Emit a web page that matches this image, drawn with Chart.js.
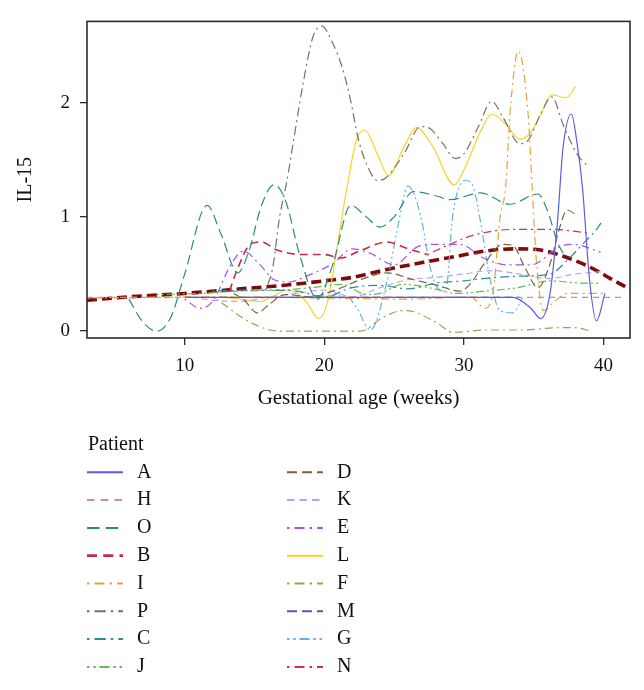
<!DOCTYPE html>
<html>
<head>
<meta charset="utf-8">
<script src="https://cdn.jsdelivr.net/npm/chart.js@4.4.1/dist/chart.umd.min.js"></script>
<style>
  html, body { margin: 0; padding: 0; background: #fff; }
</style>
</head>
<body>
<canvas id="il15" width="644" height="690"></canvas>
<script>
// IL-15 trajectories per patient, [week, value] pairs
const patients = ['A', 'H', 'O', 'B', 'I', 'P', 'C', 'J', 'D', 'K', 'E', 'L', 'F', 'M', 'G', 'N'];

const seriesA = [[10, 0.295], [22, 0.295], [33.5, 0.295], [34.8, 0.2], [35.5, 0.11], [36.2, 0.35], [36.7, 0.95], [37.1, 1.6], [37.7, 1.9], [38.1, 1.65], [38.5, 1.25], [39.0, 0.45], [39.5, 0.09], [40.1, 0.33]];
const seriesH = [[3, 0.295], [12, 0.295], [25, 0.295], [35, 0.295], [41.6, 0.295]];
const seriesO = [[6, 0.28], [7, 0.08], [8, 0.0], [9, 0.12], [10, 0.5], [11.6, 1.1], [12.6, 0.85], [13.8, 0.51], [14.6, 0.7], [15.5, 1.1], [16.4, 1.28], [17.2, 1.15], [18.3, 0.64], [19.5, 0.28], [20.6, 0.58], [21.9, 1.1], [23, 1.0], [24.0, 0.91], [25, 1.0], [26.4, 1.22], [28.1, 1.18], [29, 1.15], [31.2, 1.21], [33.3, 1.11], [35.3, 1.2], [36.0, 1.05], [36.7, 0.78], [37.3, 0.64]];
const seriesB = [[13.2, 0.35], [13.8, 0.55], [14.7, 0.76], [15.5, 0.78], [16.6, 0.71], [18.5, 0.67], [20, 0.67], [21.2, 0.64], [22.5, 0.7], [24.5, 0.78], [26, 0.72], [27.4, 0.67]];
const seriesI = [[3, 0.29], [12, 0.3], [20, 0.29], [26, 0.28], [30.5, 0.3], [31.5, 0.2], [32.1, 0.35], [32.6, 1.0], [33.0, 1.27], [33.3, 1.9], [33.9, 2.45], [34.6, 1.9], [34.9, 1.24], [35.2, 0.6], [35.7, 0.18], [36.5, 0.26], [37.4, 0.33], [40, 0.33]];
const seriesP = [[15.8, 0.36], [16.3, 0.55], [16.8, 1.0], [17.3, 1.3], [17.8, 1.67], [18.5, 2.18], [19.2, 2.58], [19.8, 2.67], [20.6, 2.52], [21.3, 2.3], [21.9, 2.01], [22.4, 1.7], [23.0, 1.47], [23.8, 1.32], [24.4, 1.34], [25.7, 1.55], [26.9, 1.79], [27.6, 1.77], [28.5, 1.64], [29.4, 1.51], [30.0, 1.55], [31.0, 1.78], [32.0, 2.01], [32.8, 1.87], [34.0, 1.64], [34.6, 1.67], [35.5, 1.9], [36.3, 2.05], [37.1, 1.81], [38.1, 1.55], [38.9, 1.44]];
const seriesC = [[12, 0.35], [15, 0.36], [18, 0.35], [20, 0.3], [22, 0.38], [24, 0.4], [26, 0.37], [28, 0.42], [30, 0.44], [31.4, 0.46], [33.8, 0.48], [36.2, 0.5], [37.4, 0.62], [38.5, 0.76], [39.5, 0.89], [39.9, 0.96]];
const seriesJ = [[8, 0.32], [11, 0.33], [14, 0.35], [17, 0.36], [19, 0.38], [21.3, 0.41], [23, 0.32], [24, 0.33], [25.6, 0.41], [27.5, 0.38], [29.5, 0.33], [31.5, 0.35], [33.8, 0.38], [36.2, 0.44], [38.5, 0.42], [39.8, 0.42]];
const seriesD = [[13.5, 0.33], [14.2, 0.28], [15.2, 0.16], [16.1, 0.24], [17.2, 0.32], [19, 0.3], [21, 0.37], [22.8, 0.46], [24.5, 0.51], [26.4, 0.45], [28.1, 0.4], [29.7, 0.35], [30.5, 0.42], [31.4, 0.58], [32.8, 0.76], [33.5, 0.75], [34.4, 0.55], [35.3, 0.38], [36.2, 0.6], [36.8, 0.88], [37.4, 1.06], [38.1, 1.01]];
const seriesK = [[10.5, 0.3], [12, 0.27], [14, 0.26], [16, 0.3], [18, 0.33], [20, 0.36], [22, 0.3], [24, 0.38], [26, 0.45], [28, 0.47], [30, 0.5], [32, 0.53], [34, 0.5], [36, 0.46], [38, 0.5], [39.8, 0.52]];
const seriesE = [[10, 0.28], [11.1, 0.2], [12, 0.26], [13.3, 0.58], [14.2, 0.7], [15.4, 0.58], [16.4, 0.45], [17.5, 0.43], [18.5, 0.47], [20.6, 0.59], [22.0, 0.72], [23.3, 0.68], [25.0, 0.58], [26.7, 0.74], [28.1, 0.76], [29.7, 0.76], [31.4, 0.64], [33.1, 0.58], [34.8, 0.58], [36.9, 0.74], [37.8, 0.76], [39.8, 0.69]];
const seriesL = [[12.5, 0.3], [14, 0.28], [15.4, 0.26], [16.4, 0.31], [17.3, 0.36], [18.2, 0.32], [18.8, 0.24], [19.6, 0.11], [20.2, 0.24], [20.9, 0.72], [21.6, 1.24], [22.3, 1.67], [22.9, 1.76], [23.8, 1.55], [24.6, 1.36], [25.7, 1.61], [26.6, 1.78], [27.8, 1.61], [29.3, 1.28], [30.0, 1.41], [31.2, 1.75], [32.0, 1.9], [33.0, 1.81], [34.0, 1.68], [34.8, 1.74], [35.6, 1.92], [36.3, 2.07], [37.3, 2.04], [38.0, 2.14]];
const seriesF = [[12.3, 0.28], [13.4, 0.18], [14.5, 0.09], [16.1, 0.01], [17, 0.0], [22.6, 0.0], [24.2, 0.12], [25.6, 0.18], [26.4, 0.17], [28.1, 0.07], [29.2, -0.01], [30.5, 0.0], [31.4, 0.01], [34, 0.01], [36.9, 0.03], [38, 0.03], [39.1, 0.0]];
const seriesM = [[14, 0.295], [20, 0.295], [26, 0.295], [32, 0.295], [34, 0.295]];
const seriesG = [[18, 0.3], [21.5, 0.31], [22.3, 0.21], [23.3, 0.01], [24.5, 0.44], [25.2, 0.87], [26.0, 1.27], [26.9, 1.01], [27.6, 0.55], [28.1, 0.38], [28.7, 0.35], [29.2, 1.01], [30.1, 1.32], [30.7, 1.25], [31.2, 0.95], [31.9, 0.44], [32.6, 0.18], [33.5, 0.16], [34.2, 0.29]];
const seriesN = [[27.4, 0.67], [29, 0.76], [30.7, 0.84], [33.5, 0.89], [36.4, 0.89], [38.8, 0.86]];

// overall smooth (thick dark red)
const meanCurve = [[3, 0.27], [6, 0.3], [10, 0.33], [14, 0.37], [17, 0.4], [20, 0.44], [22, 0.47], [24.5, 0.54], [27, 0.6], [29.7, 0.66], [31.5, 0.7], [33.5, 0.72], [35.5, 0.71], [37, 0.66], [38.5, 0.59], [39.5, 0.53], [40.5, 0.46], [41.7, 0.38]];

const xTicks = [10, 20, 30, 40];
const yTicks = [0, 1, 2];

const seriesByPatient = {
  A: seriesA, H: seriesH, O: seriesO, B: seriesB, I: seriesI, P: seriesP, C: seriesC, J: seriesJ,
  D: seriesD, K: seriesK, E: seriesE, L: seriesL, F: seriesF, M: seriesM, G: seriesG, N: seriesN
};

// line styles
const colours = {
  A: '#5b5be6', H: '#d4899a', O: '#2e8b7b', B: '#c42b42', I: '#e5a13c', P: '#7e6e5c', C: '#2e8f8f', J: '#5cbf4e',
  D: '#80603f', K: '#b9a0f5', E: '#a653e6', L: '#f2d52a', F: '#93a84d', M: '#5454c9', G: '#5fb4ea', N: '#d1304d'
};
const dashes = {
  A: [], H: [6, 5], O: [10, 5], B: [8, 5], I: [2, 4, 8, 4], P: [2, 4, 9, 4], C: [2, 4, 9, 4], J: [2, 3, 2, 3, 8, 3],
  D: [8, 4], K: [6, 4], E: [2, 4, 8, 4], L: [], F: [2, 4, 8, 4], M: [8, 4], G: [2, 3, 2, 3, 8, 3], N: [2, 4, 8, 4]
};
const keyDashScale = 1.25;

const serif = "'Liberation Serif', 'DejaVu Serif', serif";
const ink = '#2b2b2b';

const toPoints = (pairs) => pairs.map(([x, y]) => ({ x, y }));

const datasets = patients.map(p => ({
  label: p,
  data: toPoints(seriesByPatient[p]),
  borderColor: colours[p],
  borderDash: dashes[p],
  borderWidth: p === 'B' ? 1.6 : 1.2,
  pointRadius: 0,
  cubicInterpolationMode: 'monotone',
  fill: false
}));
datasets.push({
  label: 'mean',
  data: toPoints(meanCurve),
  borderColor: '#800a0a',
  borderDash: [10, 5],
  borderWidth: 3.6,
  pointRadius: 0,
  cubicInterpolationMode: 'monotone',
  fill: false
});

// box round the plot + the two-column "Patient" key under it
const frameAndKey = {
  id: 'frameAndKey',
  afterDatasetsDraw(chart) {
    const { ctx, chartArea: a } = chart;
    ctx.save();
    ctx.strokeStyle = ink;
    ctx.lineWidth = 1.6;
    ctx.strokeRect(a.left, a.top, a.right - a.left, a.bottom - a.top);
    ctx.restore();
  },
  afterDraw(chart) {
    const ctx = chart.ctx;
    ctx.save();
    ctx.fillStyle = '#111';
    ctx.textBaseline = 'middle';
    ctx.font = '20px ' + serif;
    ctx.fillText('Patient', 88, 445);
    patients.forEach((p, i) => {
      const col = Math.floor(i / 8);
      const row = i % 8;
      const x0 = 87 + col * 200;
      const y = 472.3 + row * 27.8;
      ctx.beginPath();
      ctx.strokeStyle = colours[p];
      ctx.lineWidth = p === 'B' ? 2.8 : 2;
      ctx.setLineDash(dashes[p].map(d => d * keyDashScale));
      ctx.moveTo(x0, y);
      ctx.lineTo(x0 + 36, y);
      ctx.stroke();
      ctx.setLineDash([]);
      ctx.fillText(p, x0 + 50, y);
    });
    ctx.restore();
  }
};

new Chart(document.getElementById('il15'), {
  type: 'line',
  data: { datasets },
  plugins: [frameAndKey],
  options: {
    responsive: false,
    animation: false,
    layout: { padding: { left: 0, top: 15, right: 14, bottom: 279.4 } },
    plugins: { legend: { display: false }, tooltip: { enabled: false } },
    scales: {
      x: {
        type: 'linear',
        min: 3,
        max: 41.9,
        afterBuildTicks: (axis) => { axis.ticks = xTicks.map(v => ({ value: v })); },
        afterFit: (axis) => { axis.height = 72.6; },
        border: { display: false },
        grid: { drawOnChartArea: false, drawTicks: true, tickLength: 7, color: ink, lineWidth: 1.3 },
        ticks: { color: '#111', padding: 10, font: { family: serif, size: 19 }, maxRotation: 0 },
        title: { display: true, text: 'Gestational age (weeks)', color: '#111', padding: 0, font: { family: serif, size: 21 } }
      },
      y: {
        type: 'linear',
        min: -0.06,
        max: 2.71,
        afterBuildTicks: (axis) => { axis.ticks = yTicks.map(v => ({ value: v })); },
        afterFit: (axis) => { axis.width = 87; },
        border: { display: false },
        grid: { drawOnChartArea: false, drawTicks: true, tickLength: 7, color: ink, lineWidth: 1.3 },
        ticks: { color: '#111', padding: 10, font: { family: serif, size: 19 } },
        title: { display: true, text: 'IL-15', color: '#111', padding: { top: 14, bottom: 0 }, font: { family: serif, size: 20 } }
      }
    }
  }
});
</script>
</body>
</html>
